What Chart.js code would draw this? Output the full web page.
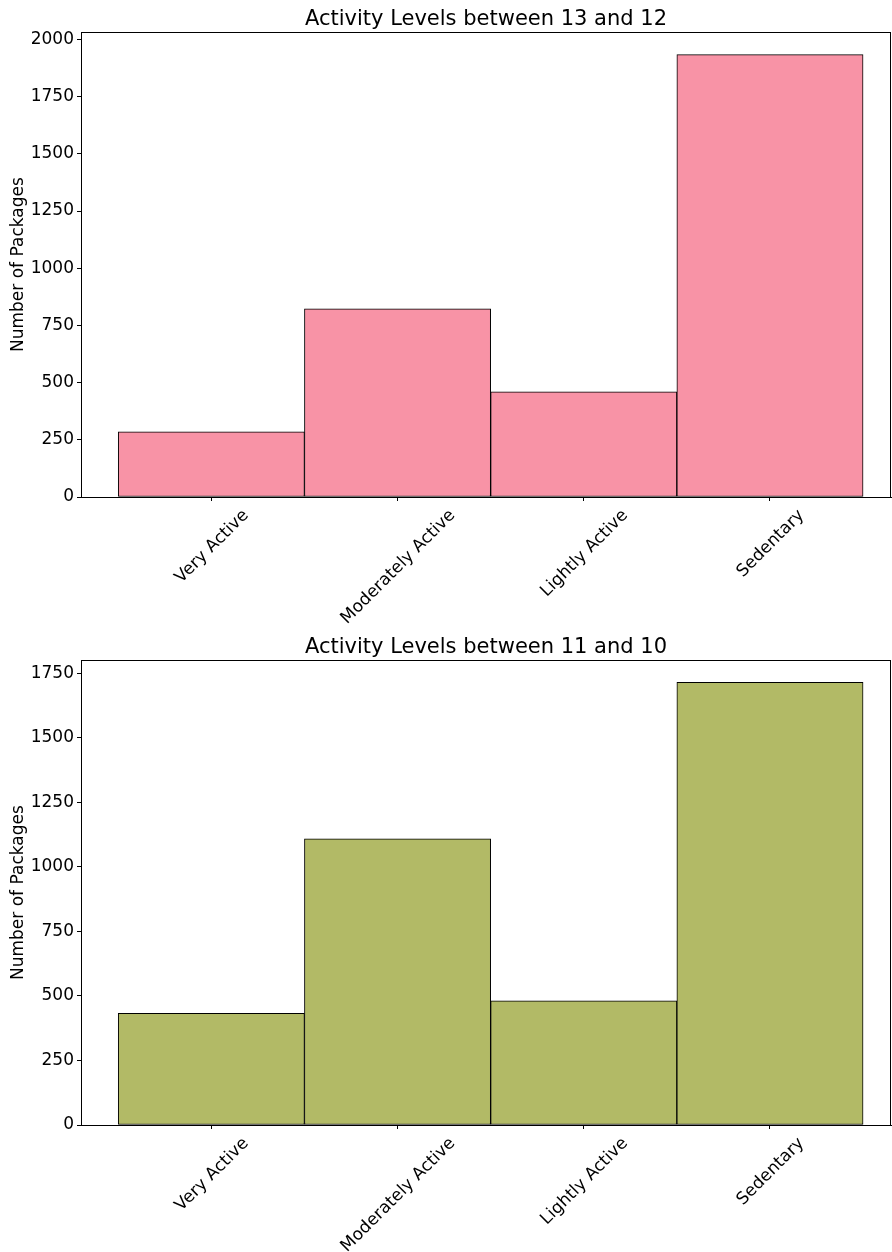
<!DOCTYPE html>
<html>
<head>
    <title>Activity Levels</title>
    <script src="https://cdn.jsdelivr.net/npm/chart.js"></script>
    <style>
        body { margin: 0; background: #fff; }
        .box { position: absolute; left: 0; width: 892px; }
    </style>
</head>
<body>
    <div class="box" style="top:0; height:628px;"><canvas id="chartTop"></canvas></div>
    <div class="box" style="top:628px; height:624px;"><canvas id="chartBottom"></canvas></div>

    <script>
        // dados
        const categories = ['Very Active', 'Moderately Active', 'Lightly Active', 'Sedentary'];
        const packages13to12 = [285, 823, 460, 1934];
        const packages11to10 = [433, 1109, 481, 1715];
        const yTicksTop = [0, 250, 500, 750, 1000, 1250, 1500, 1750, 2000];
        const yTicksBottom = [0, 250, 500, 750, 1000, 1250, 1500, 1750];

        const FONT = 'DejaVu Sans';

        // desenha a moldura completa e os rótulos do eixo x girados (centralizados no tick)
        const framePlugin = {
            id: 'frame',
            afterDraw(chart) {
                const ctx = chart.ctx;
                const a = chart.chartArea;
                ctx.save();
                ctx.strokeStyle = '#000';
                ctx.lineWidth = 1;
                ctx.strokeRect(Math.round(a.left) + 0.5, Math.round(a.top) + 0.5,
                    Math.round(a.right - a.left) - 1, Math.round(a.bottom - a.top));

                const xs = chart.scales.x;
                ctx.font = '17px "' + FONT + '"';
                ctx.fillStyle = '#000';
                ctx.textAlign = 'center';
                ctx.textBaseline = 'middle';
                const h = 19.8;
                categories.forEach((c, i) => {
                    const w = ctx.measureText(c).width;
                    const side = (w + h) * Math.SQRT1_2;
                    const cx = xs.getPixelForValue(i);
                    const cy = a.bottom + 8 + side / 2;
                    ctx.save();
                    ctx.translate(cx, cy);
                    ctx.rotate(-Math.PI / 4);
                    ctx.fillText(c, 0, 1);
                    ctx.restore();
                });
                ctx.restore();
            }
        };

        function criarGrafico(id, titulo, valores, cor, yMax, yTicks, xHeight) {
            const ctx = document.getElementById(id).getContext('2d');
            return new Chart(ctx, {
                type: 'bar',
                data: {
                    datasets: [{
                        data: valores.map((v, i) => ({ x: i, y: v })),
                        backgroundColor: cor,
                        borderColor: '#000',
                        borderWidth: 1,
                        borderSkipped: false,
                        barPercentage: 1,
                        categoryPercentage: 1
                    }]
                },
                options: {
                    responsive: true,
                    maintainAspectRatio: false,
                    animation: false,
                    layout: { padding: { left: 0, right: 1, top: 0, bottom: 0 } },
                    plugins: {
                        legend: { display: false },
                        tooltip: { enabled: false },
                        title: {
                            display: true,
                            fullSize: false,
                            text: titulo,
                            color: '#000',
                            font: { family: FONT, size: 21, weight: 'normal', lineHeight: 1.2 },
                            padding: { top: 7, bottom: 0 }
                        }
                    },
                    scales: {
                        x: {
                            type: 'linear',
                            min: -0.7,
                            max: 3.65,
                            offset: false,
                            afterBuildTicks: s => { s.ticks = categories.map((c, i) => ({ value: i })); },
                            afterFit: s => { s.height = xHeight; },
                            ticks: { display: false },
                            grid: { offset: false, drawOnChartArea: false, color: '#000', tickLength: 4 },
                            border: { display: true, color: '#000' }
                        },
                        y: {
                            min: 0,
                            max: yMax,
                            afterBuildTicks: s => { s.ticks = yTicks.map(v => ({ value: v })); },
                            afterFit: s => { s.width = 81; },
                            ticks: {
                                color: '#000',
                                padding: 3,
                                font: { family: FONT, size: 17 },
                                callback: v => String(v)
                            },
                            grid: { drawOnChartArea: false, color: '#000', tickLength: 4 },
                            border: { display: true, color: '#000' },
                            title: {
                                display: true,
                                text: 'Number of Packages',
                                color: '#000',
                                font: { family: FONT, size: 17 },
                                padding: { top: 8, bottom: 0 }
                            }
                        }
                    }
                },
                plugins: [framePlugin]
            });
        }

        criarGrafico('chartTop', 'Activity Levels between 13 and 12', packages13to12,
            'rgb(248, 147, 166)', 2032, yTicksTop, 131);
        criarGrafico('chartBottom', 'Activity Levels between 11 and 10', packages11to10,
            'rgb(178, 186, 102)', 1801, yTicksBottom, 127);
    </script>
</body>
</html>
